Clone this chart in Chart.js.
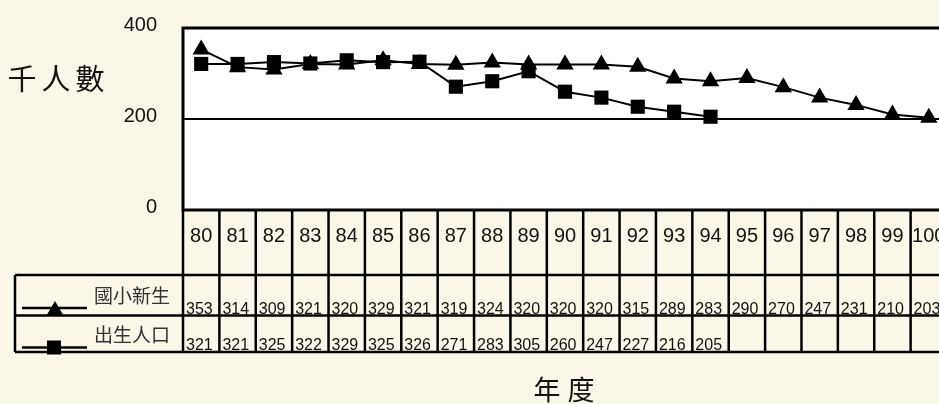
<!DOCTYPE html>
<html lang="zh-Hant">
<head>
<meta charset="utf-8">
<title>國小新生與出生人口</title>
<script src="https://cdn.jsdelivr.net/npm/chart.js@4.4.1/dist/chart.umd.min.js"></script>
<style>
  html, body { margin: 0; padding: 0; background: #faf6e8; overflow: hidden; }
  #wrap { position: relative; width: 960px; height: 404px; }
  canvas { display: block; }
</style>
</head>
<body>
<div id="wrap"><canvas id="chart" width="960" height="404"></canvas></div>
<script>
// 年度 (民國)
const years = ['80', '81', '82', '83', '84', '85', '86', '87', '88', '89', '90',
               '91', '92', '93', '94', '95', '96', '97', '98', '99', '100'];
// 國小新生 (千人)
const freshmen = [353, 314, 309, 321, 320, 329, 321, 319, 324, 320, 320,
                  320, 315, 289, 283, 290, 270, 247, 231, 210, 203];
// 出生人口 (千人)
const births = [321, 321, 325, 322, 329, 325, 326, 271, 283, 305, 260,
                247, 227, 216, 205, null, null, null, null, null, null];
const yTicks = [0, 200, 400];
const seriesNames = ['國小新生', '出生人口'];
const seriesMarks = ['triangle', 'rect'];

// table rows under the plot (top of series rows, then bottom)
const rowLines = [275, 315.5, 352];
const tableLeft = 15;
const plotRight = 947;
const INK = '#000';

// Draws the white plot, its borders, the data table and the titles
const tablePlugin = {
  id: 'dataTable',
  beforeDraw(chart) {
    const { ctx, chartArea: a } = chart;
    ctx.save();
    ctx.fillStyle = '#fff';
    ctx.fillRect(a.left, a.top, a.right - a.left, a.bottom - a.top);
    ctx.restore();
  },
  afterDatasetsDraw(chart) {
    const { ctx, chartArea: a } = chart;
    ctx.save();
    ctx.strokeStyle = INK;
    ctx.lineWidth = 3;
    ctx.beginPath();
    ctx.moveTo(chart.width, a.top);
    ctx.lineTo(a.left, a.top);
    ctx.lineTo(a.left, a.bottom);
    ctx.lineTo(chart.width, a.bottom);
    ctx.stroke();
    ctx.restore();
  },
  afterDraw(chart) {
    const { ctx, chartArea: a } = chart;
    const x = chart.scales.x;
    const pitch = (x.right - x.left) / years.length;
    const edges = years.map((_, i) => x.getPixelForValue(i) - pitch / 2);
    edges.push(x.getPixelForValue(years.length - 1) + pitch / 2);

    ctx.save();
    // values
    ctx.fillStyle = '#111';
    ctx.font = '16px "Liberation Sans", Arial, sans-serif';
    ctx.textAlign = 'left';
    ctx.textBaseline = 'alphabetic';
    chart.data.datasets.forEach((ds, s) => {
      const base = rowLines[s + 1] - 2;
      ds.data.forEach((v, i) => {
        if (v === null) return;
        ctx.fillText(String(v), edges[i] + 3, base);
      });
    });

    // grid of the table
    ctx.strokeStyle = INK;
    ctx.lineWidth = 2.5;
    ctx.beginPath();
    edges.forEach(ex => { ctx.moveTo(ex, a.bottom); ctx.lineTo(ex, rowLines[2]); });
    rowLines.forEach(ry => { ctx.moveTo(tableLeft, ry); ctx.lineTo(chart.width, ry); });
    ctx.moveTo(tableLeft, rowLines[0]);
    ctx.lineTo(tableLeft, rowLines[2]);
    ctx.stroke();

    // legend keys
    const offs = [7.5, 4.5];
    chart.data.datasets.forEach((ds, s) => {
      const top = rowLines[s], bot = rowLines[s + 1];
      const ly = bot - offs[s];
      ctx.lineWidth = 2.5;
      ctx.beginPath();
      ctx.moveTo(22, ly);
      ctx.lineTo(87, ly);
      ctx.stroke();
      ctx.fillStyle = INK;
      ctx.beginPath();
      if (seriesMarks[s] === 'triangle') {
        ctx.moveTo(55, ly - 7);
        ctx.lineTo(63.5, bot);
        ctx.lineTo(46.5, bot);
        ctx.closePath();
      } else {
        ctx.rect(47, ly - 7, 14, 14);
      }
      ctx.fill();
      ctx.fillStyle = '#333';
      ctx.font = '19px "Noto Sans CJK TC", sans-serif';
      ctx.textBaseline = 'middle';
      ctx.fillText(seriesNames[s], 94, top + (s === 0 ? 21 : 19.5));
    });

    // axis titles
    ctx.fillStyle = '#111';
    ctx.textAlign = 'center';
    ctx.textBaseline = 'middle';
    ctx.font = '29px "Noto Sans CJK TC", serif';
    ['千', '人', '數'].forEach((c, i) => ctx.fillText(c, 22 + i * 34, 79));
    ctx.font = '27px "Noto Sans CJK TC", serif';
    ['年', '度'].forEach((c, i) => ctx.fillText(c, 547 + i * 34, 390));
    ctx.restore();
  }
};

new Chart(document.getElementById('chart'), {
  type: 'line',
  data: {
    labels: years,
    datasets: [
      { label: seriesNames[0], data: freshmen, order: 1, pointStyle: seriesMarks[0] },
      { label: seriesNames[1], data: births, order: 0, pointStyle: seriesMarks[1] }
    ].map(ds => Object.assign(ds, {
      borderColor: INK, backgroundColor: INK, borderWidth: 2,
      pointRadius: 10, pointBorderWidth: 0, tension: 0, spanGaps: false
    }))
  },
  options: {
    responsive: false,
    animation: false,
    layout: { padding: { top: 28, right: 960 - plotRight, left: 0, bottom: 0 } },
    plugins: { legend: { display: false }, tooltip: { enabled: false } },
    scales: {
      x: {
        offset: true,
        grid: { display: false, drawTicks: false },
        border: { display: false },
        ticks: {
          color: '#111', padding: 14, maxRotation: 0, autoSkip: false,
          font: { family: '"Liberation Sans Narrow", "Arial Narrow", "Liberation Sans", sans-serif', size: 20 }
        },
        afterFit: s => { s.height = 404 - 210; s.paddingLeft = 0; s.paddingRight = 0; }
      },
      y: {
        min: 0, max: 400,
        afterBuildTicks: s => { s.ticks = yTicks.map(v => ({ value: v })); },
        grid: { color: INK, lineWidth: 2, drawTicks: false },
        border: { display: false },
        ticks: {
          color: '#111', padding: 26, labelOffset: -3,
          font: { family: '"Liberation Sans", Arial, sans-serif', size: 20 }
        },
        afterFit: s => { s.width = 183; s.paddingTop = 0; s.paddingBottom = 0; }
      }
    }
  },
  plugins: [tablePlugin]
});
</script>
</body>
</html>
